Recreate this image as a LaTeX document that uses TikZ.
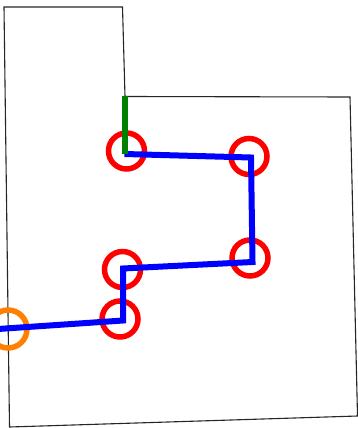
\documentclass[tikz,border=0pt]{standalone}
\begin{document}
\begin{tikzpicture}[x=1pt,y=-1pt,
  outline/.style={draw=black!85,line width=1.1pt,line join=miter},
  ring/.style={circle,draw=red,line width=5.5pt,minimum size=36pt,inner sep=0pt},
  oring/.style={circle,draw={rgb,255:red,255;green,128;blue,0},line width=5.5pt,minimum size=38pt,inner sep=0pt},
  route/.style={draw=blue,line width=6pt,line join=miter},
  stem/.style={draw={rgb,255:red,0;green,128;blue,0},line width=6pt}]
\useasboundingbox (0,0) rectangle (358,428);
\clip (0,0) rectangle (358,428);
\fill[white] (0,0) rectangle (358,428);
% outline
\draw[outline] (4,7) -- (122.5,7) -- (125,96.5) -- (350,97) -- (357.5,416) -- (9.5,427) -- cycle;
% rings
\node[ring] (r1) at (126.5,151) {};
\node[ring] (r2) at (249,156.5) {};
\node[ring] (r3) at (250,258) {};
\node[ring] (r4) at (122.5,269.5) {};
\node[ring] (r5) at (120,319) {};
\node[oring] (r6) at (8,329) {};
% path corners
\coordinate (p1) at (124.5,154);
\coordinate (p2) at (251,157.5);
\coordinate (p3) at (252.5,262);
\coordinate (p4) at (123,268.5);
\coordinate (p5) at (123,320.5);
\coordinate (p6) at (-2,329);
\coordinate (g0) at (124.5,96);
\draw[route] (p6) -- (p5) -- (p4) -- (p3) -- (p2) -- (p1);
\draw[stem] (g0) -- (p1);
\end{tikzpicture}
\end{document}
